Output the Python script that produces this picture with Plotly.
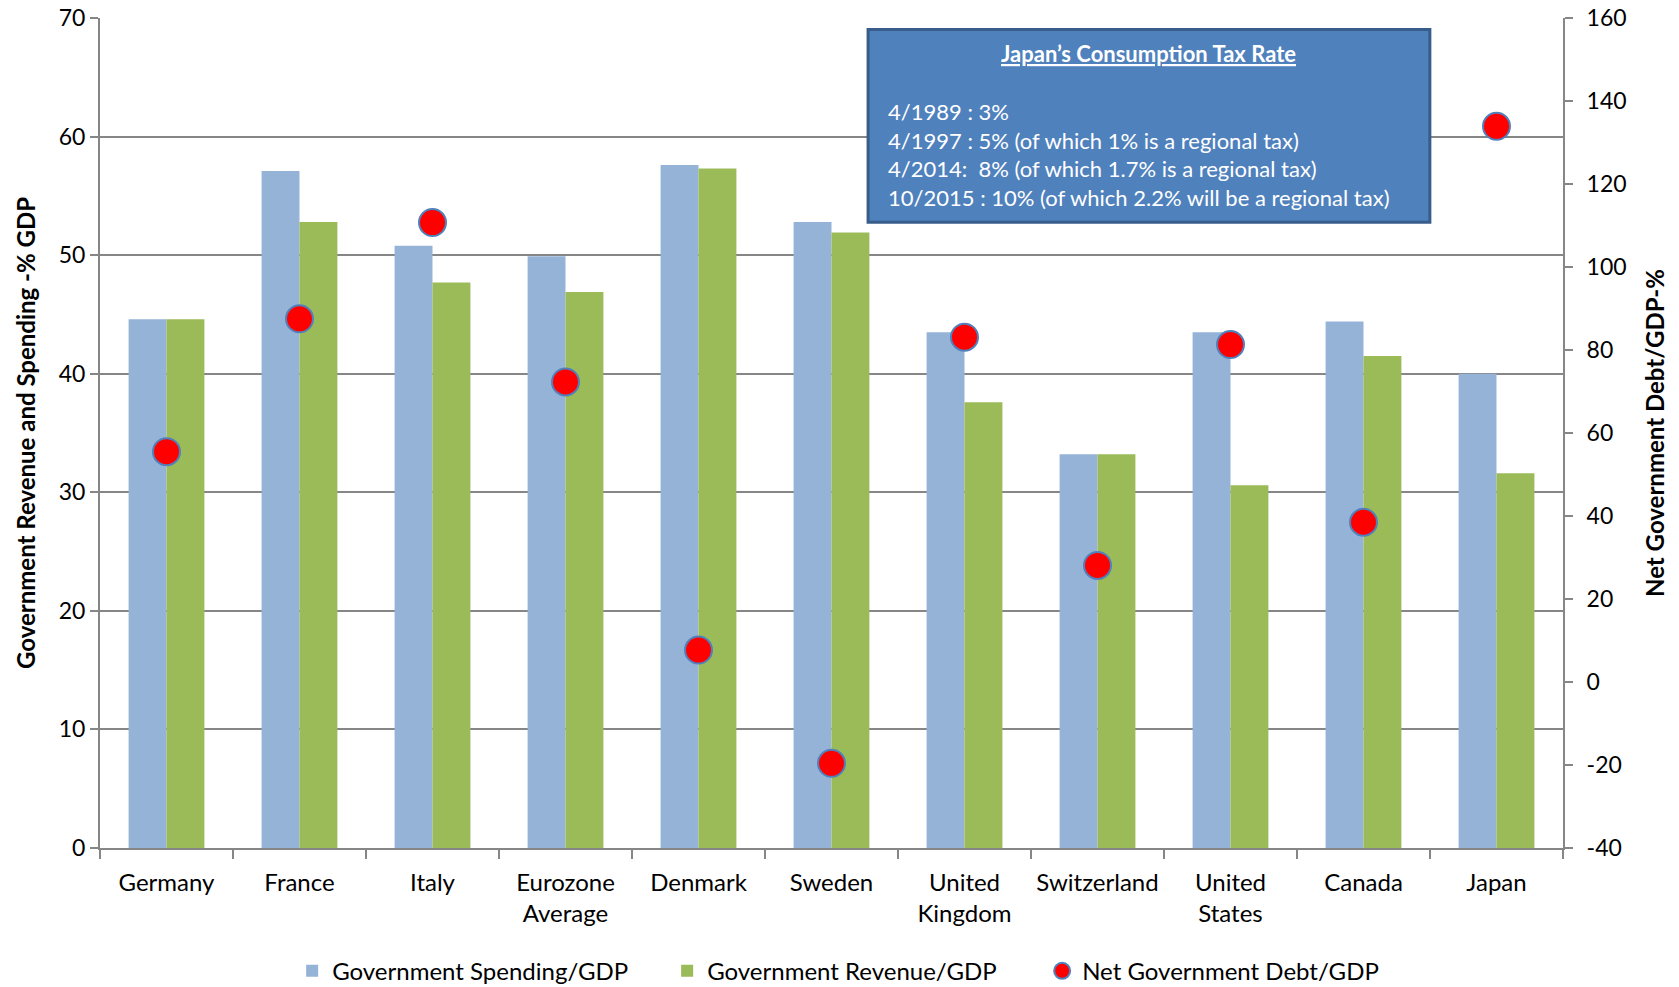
import plotly.graph_objects as go

categories = ["Germany", "France", "Italy", "Eurozone<br>Average", "Denmark", "Sweden",
              "United<br>Kingdom", "Switzerland", "United<br>States", "Canada", "Japan"]
spending = [44.6, 57.1, 50.8, 49.9, 57.6, 52.8, 43.5, 33.2, 43.5, 44.4, 40.0]
revenue = [44.6, 52.8, 47.7, 46.9, 57.3, 51.9, 37.6, 33.2, 30.6, 41.5, 31.6]
net_debt = [55.5, 87.5, 110.7, 72.3, 7.7, -19.6, 83.1, 28.1, 81.3, 38.5, 133.9]

y2_ticks = [-40, -20, 0, 20, 40, 60, 80, 100, 120, 140, 160]
y2_labels = ["-40", "-20", "0", "20", "40", "60", "80", "100", "120", "140", "160"]

box_title = "<b><u>Japan’s Consumption Tax Rate</u></b>"
box_lines = ["4/1989 : 3%",
             "4/1997 : 5% (of which 1% is a regional tax)",
             "4/2014:  8% (of which 1.7% is a regional tax)",
             "10/2015 : 10% (of which 2.2% will be a regional tax)"]

TEXTFONT = "Lato"
TICKFONT = dict(family=TEXTFONT, size=23, color="#000000")

fig = go.Figure()
fig.add_trace(go.Bar(x=categories, y=spending, name="Government Spending/GDP",
                     marker=dict(color="#95B3D7", line=dict(width=0))))
fig.add_trace(go.Bar(x=categories, y=revenue, name="Government Revenue/GDP",
                     marker=dict(color="#9BBB59", line=dict(width=0))))
fig.add_trace(go.Scatter(x=categories, y=net_debt, name="Net Government Debt/GDP",
                         mode="markers", yaxis="y2",
                         marker=dict(color="#FF0000", size=27,
                                     line=dict(color="#4F81BD", width=2))))

fig.update_layout(
    width=1679, height=987,
    paper_bgcolor="white", plot_bgcolor="white",
    margin=dict(l=100, r=116, t=18, b=139),
    barmode="group", bargap=0.43, bargroupgap=0,
    showlegend=True,
    legend=dict(orientation="h", x=0.174, xanchor="left", xref="container",
                y=0.016, yanchor="middle", yref="container",
                font=dict(family=TEXTFONT, size=24, color="#000000"),
                entrywidth=330, traceorder="normal"),
    xaxis=dict(type="category", range=[-0.5, 10.5], showline=True, linecolor="#868686", linewidth=2,
               ticks="outside", tickson="boundaries", ticklen=9, tickcolor="#868686",
               tickwidth=2, showgrid=False, ticklabelstandoff=12, automargin=False,
               tickfont=dict(family=TEXTFONT, size=24, color="#000000")),
    yaxis=dict(range=[0, 70], dtick=10, showline=True, linecolor="#868686", linewidth=2,
               ticks="outside", ticklen=8, tickcolor="#868686", tickwidth=2,
               showgrid=True, gridcolor="#868686", gridwidth=1.5, zeroline=False,
               tickfont=TICKFONT, ticklabelstandoff=0, automargin=False,
               title=dict(text="<b>Government Revenue and Spending -% GDP</b>",
                          font=dict(family=TEXTFONT, size=24, color="#000000"),
                          standoff=16)),
    yaxis2=dict(range=[-40, 160], tickvals=y2_ticks, ticktext=y2_labels, overlaying="y", side="right",
                showline=True, linecolor="#868686", linewidth=2,
                ticks="outside", ticklen=8, tickcolor="#868686", tickwidth=2,
                showgrid=False, zeroline=False, tickfont=TICKFONT, ticklabelstandoff=9,
                automargin=False,
                title=dict(text="<b>Net Government Debt/GDP-%</b>",
                           font=dict(family=TEXTFONT, size=24, color="#000000"),
                           standoff=22)),
)

fig.add_shape(type="rect", xref="paper", yref="paper", x0=0.525, x1=0.909, y0=0.754, y1=0.986,
              fillcolor="#4F81BD", line=dict(color="#385D8A", width=3), layer="above")
fig.add_annotation(xref="paper", yref="paper", x=0.7165, y=0.957, xanchor="center", yanchor="middle",
                   text=box_title, showarrow=False,
                   font=dict(family=TEXTFONT, size=22, color="white"))
fig.add_annotation(xref="paper", yref="paper", x=0.537, y=0.836, xanchor="left", yanchor="middle",
                   text="<br>".join(box_lines), showarrow=False, align="left",
                   font=dict(family=TEXTFONT, size=22, color="white"))

fig.write_html("out.html")
